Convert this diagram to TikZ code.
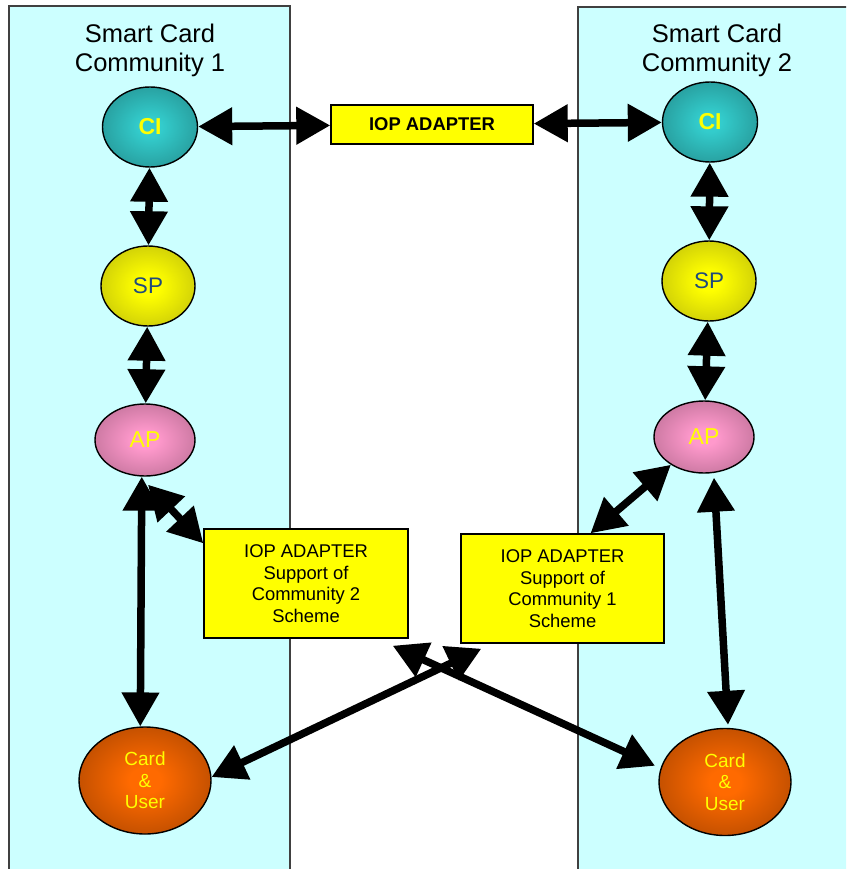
\documentclass[tikz,border=0pt]{standalone}
\usepackage{fontspec}
\setmainfont{Liberation Sans}
\usetikzlibrary{arrows.meta,shapes.geometric,calc}

\definecolor{panelfill}{HTML}{CCFFFF}
\definecolor{adapterfill}{HTML}{FFFF00}
\definecolor{splabel}{HTML}{1F4A7D}
\definecolor{nodelabel}{HTML}{FFFF00}
\definecolor{ciin}{HTML}{33CCCC}
\definecolor{ciout}{HTML}{1B6A6A}
\definecolor{spin}{HTML}{FFFF00}
\definecolor{spout}{HTML}{9A9A10}
\definecolor{apin}{HTML}{FF99CC}
\definecolor{apout}{HTML}{8E5270}
\definecolor{cardin}{HTML}{FF6A00}
\definecolor{cardout}{HTML}{7A3000}

% soft radial glows for the role ellipses
\pgfdeclareradialshading{ciglow}{\pgfpoint{0bp}{0bp}}{color(0bp)=(ciin); color(6bp)=(ciin); color(50bp)=(ciout)}
\pgfdeclareradialshading{spglow}{\pgfpoint{0bp}{0bp}}{color(0bp)=(spin); color(6bp)=(spin); color(50bp)=(spout)}
\pgfdeclareradialshading{apglow}{\pgfpoint{0bp}{0bp}}{color(0bp)=(apin); color(6bp)=(apin); color(50bp)=(apout)}
\pgfdeclareradialshading{cardglow}{\pgfpoint{0bp}{0bp}}{color(0bp)=(cardin); color(6bp)=(cardin); color(50bp)=(cardout)}

\begin{document}
\begin{tikzpicture}[x=1pt,y=-1pt,
  panelbox/.style={fill=panelfill,draw=black!75,line width=1.2pt},
  title/.style={align=center,inner sep=0pt,font=\fontsize{25.5}{29}\selectfont},
  role/.style={ellipse,draw=black,line width=1.4pt,inner sep=0pt},
  cinode/.style={role,shading=ciglow,minimum width=95pt,minimum height=80pt,
    text=nodelabel,font=\bfseries\fontsize{23}{26}\selectfont},
  spnode/.style={role,shading=spglow,minimum width=94pt,minimum height=80pt,
    text=splabel,font=\fontsize{22.5}{26}\selectfont},
  apnode/.style={role,shading=apglow,minimum width=100pt,minimum height=72pt,
    text=nodelabel,font=\fontsize{23}{26}\selectfont},
  cardnode/.style={role,shading=cardglow,minimum width=132pt,minimum height=107pt,
    text=nodelabel,align=center,font=\fontsize{19}{21.5}\selectfont},
  adapter/.style={rectangle,fill=adapterfill,draw=black,line width=1.4pt,
    inner sep=0pt,align=center},
  tipshape/.style={Triangle[length=34pt,width=36pt]},
  biarrow/.style={line width=7.5pt,{Triangle[length=34pt,width=36pt]}-{Triangle[length=34pt,width=36pt]}}
]
\path[use as bounding box] (0,0) rectangle (846,869);
\clip (0,0) rectangle (846,869);
\fill[white] (0,0) rectangle (846,869);

% the two community columns
\draw[panelbox] (9,6) rectangle (290,885);
\draw[panelbox] (578,7) rectangle (865,885);

\node[title] (title1) at (150,50) {Smart Card\\Community 1};
\node[title] (title2) at (717,50) {Smart Card\\Community 2};

% community 1 roles
\node[cinode]   (ci1)   at (150,127) {CI};
\node[spnode]   (sp1)   at (148,286) {SP};
\node[apnode]   (ap1)   at (145,440) {AP};
\node[cardnode] (card1) at (145,780.5) {Card\\\&\\User};

% community 2 roles
\node[cinode]   (ci2)   at (710,122) {CI};
\node[spnode]   (sp2)   at (709,281) {SP};
\node[apnode]   (ap2)   at (704,437) {AP};
\node[cardnode] (card2) at (725,782) {Card\\\&\\User};

% adapters
\node[adapter,minimum width=202pt,minimum height=39pt,
  font=\bfseries\fontsize{18.4}{21}\selectfont] (iop) at (432,124.5) {IOP ADAPTER};
\node[adapter,minimum width=204pt,minimum height=109pt,
  font=\fontsize{18.4}{21.5}\selectfont] (box1) at (306,583.5)
  {IOP ADAPTER\\Support of\\Community 2\\Scheme};
\node[adapter,minimum width=203pt,minimum height=109pt,
  font=\fontsize{18.4}{21.5}\selectfont] (box2) at (562.5,588.5)
  {IOP ADAPTER\\Support of\\Community 1\\Scheme};

% links
\draw[biarrow] (ci1) -- (iop);
\draw[biarrow] (iop) -- (ci2);
\draw[biarrow] (ci1) -- (sp1);
\draw[biarrow] (sp1) -- (ap1);
\draw[biarrow] (ci2) -- (sp2);
\draw[biarrow] (sp2) -- (ap2);
\draw[biarrow] (ap1.265) -- (card1.95);
\draw[biarrow] ($(ap1.south)+(3,8)$) -- ($(box1.north west)+(0,15)$);
\draw[biarrow] (ap2.220) -- ($(box2.north)+(28,0)$);
\draw[biarrow] ($(ap2.south)+(10,4)$) -- ($(card2.north)+(3,-3)$);
\draw[biarrow,shorten >=6pt] ($(box1.south east)+(-16,7)$) -- (card2.168);
\draw[biarrow] ($(box2.south west)+(21,5)$) -- (card1.3);
\end{tikzpicture}
\end{document}
